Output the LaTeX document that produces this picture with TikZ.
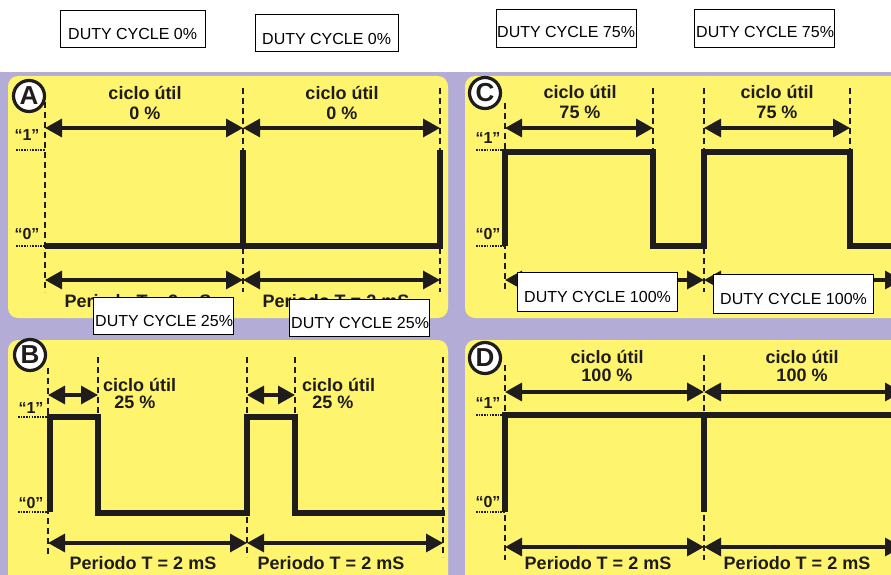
\documentclass[tikz,border=0pt]{standalone}
\usepackage{fontspec}
\setmainfont{Liberation Sans}
\usetikzlibrary{arrows.meta}
\definecolor{lav}{RGB}{178,172,214}
\definecolor{yel}{RGB}{255,244,110}
\definecolor{ink}{RGB}{30,28,28}
\tikzset{
  panel/.style={fill=yel, draw=none, rounded corners=10pt},
  sig/.style={draw=ink, line width=5.5pt, line cap=butt, line join=miter},
  guide/.style={draw=ink, line width=1.3pt, dash pattern=on 6pt off 4pt},
  lvl/.style={draw=ink, line width=1.2pt, dash pattern=on 1.6pt off 1.1pt},
  dimarrow/.style={draw=ink, line width=3.2pt, {Triangle[length=17pt,width=18pt]}-{Triangle[length=17pt,width=18pt]}},
  lbl/.style={font=\bfseries\fontsize{18}{20}\selectfont, text=ink, inner sep=0pt},
  lvlbl/.style={font=\bfseries\fontsize{16}{18}\selectfont, text=ink, inner sep=0pt},
  badge/.style={circle, draw=ink, line width=3.2pt, fill=white, minimum size=31pt, inner sep=0pt, font=\bfseries\fontsize{26}{26}\selectfont, text=ink},
  dutybox/.style={draw=black, line width=0.8pt, fill=white, inner sep=0pt, anchor=north west},
  dutytext/.style={font=\fontsize{16}{18}\selectfont, inner sep=0pt, anchor=base west, text=black}
}
\begin{document}
\begin{tikzpicture}[x=1pt,y=-1pt]
\useasboundingbox (0,0) rectangle (891,575);
\fill[white] (0,0) rectangle (891,575);
\begin{scope}
\clip (0,0) rectangle (891,575);
\fill[lav] (0,72) rectangle (891,575);
% panels
\fill[panel] (8,76) rectangle (448,318);
\fill[panel] (465,76) rectangle (905,318);
\fill[panel] (8,340) rectangle (448,600);
\fill[panel] (465,340) rectangle (905,600);

% ---------------- Panel A ----------------
\draw[guide] (45,102) -- (45,292);
\draw[guide] (243,88) -- (243,292);
\draw[guide] (440,88) -- (440,292);
\draw[lvl] (16,150) -- (45,150);
\draw[lvl] (16,246) -- (45,246);
\node[lvlbl] (a1) at (27,135) {“1”};
\node[lvlbl] (a0) at (27,234) {“0”};
\draw[sig] (45,246) -| (243,150);
\draw[sig] (243,246) -| (440,150);
\coordinate (aT0) at (45,128); \coordinate (aT1) at (243,128); \coordinate (aT2) at (440,128);
\draw[dimarrow] (aT0) -- (aT1);
\draw[dimarrow] (aT1) -- (aT2);
\coordinate (aB0) at (45,280); \coordinate (aB1) at (243,280); \coordinate (aB2) at (440,280);
\draw[dimarrow] (aB0) -- (aB1);
\draw[dimarrow] (aB1) -- (aB2);
\node[lbl] (ac1) at (145,93) {ciclo útil};
\node[lbl] (ap1) at (145,113) {0 \%};
\node[lbl] (ac2) at (342,93) {ciclo útil};
\node[lbl] (ap2) at (342,113) {0 \%};
\node[lbl] (aper1) at (138,301) {Periodo T = 2 mS};
\node[lbl] (aper2) at (336,301) {Periodo T = 2 mS};
\node[badge] (badgeA) at (29,96) {A};

% ---------------- Panel C ----------------
\draw[guide] (505,103) -- (505,292);
\draw[guide] (653,88) -- (653,150);
\draw[guide] (704,88) -- (704,292);
\draw[guide] (850,88) -- (850,150);
\draw[lvl] (476,150) -- (505,150);
\draw[lvl] (476,246) -- (505,246);
\node[lvlbl] (c1) at (488,138) {“1”};
\node[lvlbl] (c0) at (488,234) {“0”};
\draw[sig] (505,246) -- (505,152) -- (653,152) -- (653,246) -- (704,246) -- (704,152) -- (850,152) -- (850,246) -- (900,246);
\coordinate (cT0) at (505,128); \coordinate (cT1) at (653,128);
\coordinate (cT2) at (704,128); \coordinate (cT3) at (850,128);
\draw[dimarrow] (cT0) -- (cT1);
\draw[dimarrow] (cT2) -- (cT3);
\coordinate (cB0) at (505,280); \coordinate (cB1) at (704,280); \coordinate (cB2) at (902,280);
\draw[dimarrow] (cB0) -- (cB1);
\draw[dimarrow] (cB1) -- (cB2);
\node[lbl] (cc1) at (580,92) {ciclo útil};
\node[lbl] (cp1) at (580,112) {75 \%};
\node[lbl] (cc2) at (777,92) {ciclo útil};
\node[lbl] (cp2) at (777,112) {75 \%};
\node[badge] (badgeC) at (485,93) {C};

% ---------------- Panel B ----------------
\draw[guide] (48,368) -- (48,557);
\draw[guide] (98,357) -- (98,413);
\draw[guide] (247,357) -- (247,557);
\draw[guide] (295,357) -- (295,413);
\draw[guide] (443,357) -- (443,557);
\draw[lvl] (18,417) -- (48,417);
\draw[lvl] (18,512) -- (48,512);
\node[lvlbl] (b1) at (31,408) {“1”};
\node[lvlbl] (b0) at (31,503) {“0”};
\draw[sig] (50,512) -- (50,417) -- (98,417) -- (98,513) -- (247,513) -- (247,417) -- (295,417) -- (295,513) -- (445,513);
\coordinate (bT0) at (48,395); \coordinate (bT1) at (98,395);
\coordinate (bT2) at (247,395); \coordinate (bT3) at (295,395);
\draw[dimarrow] (bT0) -- (bT1);
\draw[dimarrow] (bT2) -- (bT3);
\coordinate (bB0) at (48,543); \coordinate (bB1) at (247,543); \coordinate (bB2) at (443,543);
\draw[dimarrow] (bB0) -- (bB1);
\draw[dimarrow] (bB1) -- (bB2);
\node[lbl, anchor=west] (bc1) at (103,385) {ciclo útil};
\node[lbl] (bp1) at (135,402) {25 \%};
\node[lbl, anchor=west] (bc2) at (302,385) {ciclo útil};
\node[lbl] (bp2) at (333,402) {25 \%};
\node[lbl] (bper1) at (143,563) {Periodo T = 2 mS};
\node[lbl] (bper2) at (331,563) {Periodo T = 2 mS};
\node[badge] (badgeB) at (30,355) {B};

% ---------------- Panel D ----------------
\draw[guide] (505,365) -- (505,560);
\draw[guide] (704,355) -- (704,560);
\draw[lvl] (476,415) -- (505,415);
\draw[lvl] (476,512) -- (505,512);
\node[lvlbl] (d1) at (488,403) {“1”};
\node[lvlbl] (d0) at (488,502) {“0”};
\draw[sig] (505,512) -- (505,415) -- (900,415);
\draw[sig] (704,415) -- (704,512);
\coordinate (dT0) at (505,392); \coordinate (dT1) at (704,392); \coordinate (dT2) at (902,392);
\draw[dimarrow] (dT0) -- (dT1);
\draw[dimarrow] (dT1) -- (dT2);
\coordinate (dB0) at (505,547); \coordinate (dB1) at (704,547); \coordinate (dB2) at (902,547);
\draw[dimarrow] (dB0) -- (dB1);
\draw[dimarrow] (dB1) -- (dB2);
\node[lbl] (dc1) at (607,357) {ciclo útil};
\node[lbl] (dp1) at (607,375) {100 \%};
\node[lbl] (dc2) at (802,357) {ciclo útil};
\node[lbl] (dp2) at (802,375) {100 \%};
\node[lbl] (dper1) at (598,563) {Periodo T = 2 mS};
\node[lbl] (dper2) at (797,563) {Periodo T = 2 mS};
\node[badge] (badgeD) at (485,358) {D};
\end{scope}

% ---------------- overlay boxes ----------------
\node[dutybox, minimum width=145pt, minimum height=37pt] (box1) at (60,10) {};
\node[dutytext] (txt1) at (68,40) {DUTY CYCLE 0\%};
\node[dutybox, minimum width=143pt, minimum height=37pt] (box2) at (255,14) {};
\node[dutytext] (txt2) at (262,45) {DUTY CYCLE 0\%};
\node[dutybox, minimum width=140pt, minimum height=38pt] (box3) at (496,9) {};
\node[dutytext] (txt3) at (497,38) {DUTY CYCLE 75\%};
\node[dutybox, minimum width=140pt, minimum height=38pt] (box4) at (694,9) {};
\node[dutytext] (txt4) at (696,38) {DUTY CYCLE 75\%};
\node[dutybox, minimum width=140pt, minimum height=37pt] (box5) at (93,297) {};
\node[dutytext] (txt5) at (95,326) {DUTY CYCLE 25\%};
\node[dutybox, minimum width=140pt, minimum height=37pt] (box6) at (289,299) {};
\node[dutytext] (txt6) at (291,328) {DUTY CYCLE 25\%};
\node[dutybox, minimum width=160pt, minimum height=39pt] (box7) at (517,272) {};
\node[dutytext] (txt7) at (524,302) {DUTY CYCLE 100\%};
\node[dutybox, minimum width=160pt, minimum height=39pt] (box8) at (713,274) {};
\node[dutytext] (txt8) at (720,304) {DUTY CYCLE 100\%};
\end{tikzpicture}
\end{document}
